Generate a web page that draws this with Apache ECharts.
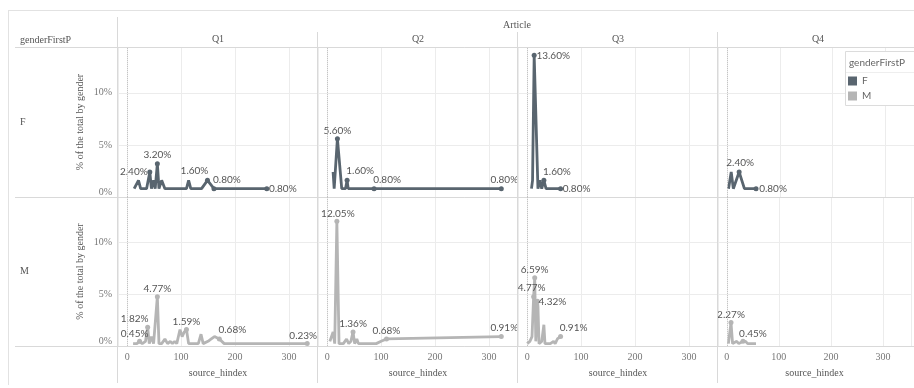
<!DOCTYPE html>
<html>
<head>
<meta charset="utf-8">
<script src="https://cdn.jsdelivr.net/npm/echarts@6/dist/echarts.min.js"></script>
<style>
html,body{margin:0;padding:0;background:#fff;}
#chart{width:914px;height:388px;}
</style>
</head>
<body>
<div id="chart"></div>
<script>
// ---------- data ----------
const columns = ['Q1', 'Q2', 'Q3', 'Q4'];
const genders = ['F', 'M'];
const yTicks = [0, 5, 10];
const xTicks = [0, 100, 200, 300];

// [source_hindex, % of the total by gender]
const q1F = [[13,0.8],[21,1.6],[25,0.8],[36,0.8],[42,2.4],[45,0.8],[49,1.6],[52,0.8],[56,3.2],[59,0.8],[64,1.6],[70,0.8],[110,0.8],[114,1.6],[118,0.8],[138,0.8],[149,1.6],[161,0.8],[259,0.8]];
const q2F = [[11,2.4],[13,0.8],[19,5.6],[27,0.8],[34,0.8],[37,1.6],[39,0.8],[87,0.8],[323,0.8]];
const q3F = [[8,0.8],[10,1.6],[13,13.6],[20,0.8],[24,1.6],[27,0.8],[31,1.6],[35,0.8],[62,0.8]];
const q4F = [[3,0.8],[8,2.4],[12,0.8],[23,2.4],[33,0.8],[55,0.8]];

const q1M = [[11,0.23],[18,0.23],[23,0.45],[28,0.23],[34,0.45],[38,1.82],[41,0.23],[45,0.91],[49,0.23],[56,4.77],[59,0.23],[64,0.23],[70,0.68],[75,0.23],[80,0.45],[84,0.23],[88,0.45],[92,0.23],[98,1.59],[102,0.91],[106,1.36],[110,1.59],[114,0.23],[132,0.23],[137,1.14],[141,0.23],[150,0.45],[156,0.68],[162,0.91],[171,0.68],[180,0.23],[334,0.23]];
const q2M = [[5,0.45],[11,1.36],[14,0.23],[18,12.05],[22,0.23],[30,0.23],[36,0.68],[40,0.23],[44,0.45],[48,1.36],[51,0.23],[55,0.68],[58,0.23],[91,0.23],[100,0.45],[110,0.68],[323,0.91]];
const q3M = [[0,0.23],[5,0.45],[9,0.91],[12,4.77],[14,6.59],[16,0.45],[19,4.32],[20,3.86],[22,0.23],[27,0.45],[31,2.05],[33,0.23],[43,0.23],[49,0.45],[52,0.23],[56,0.68],[62,0.91]];
const q4M = [[3,0.23],[8,2.27],[11,0.23],[19,0.45],[23,0.23],[31,0.45],[36,0.45],[40,0.23],[56,0.23]];

// x values of the labelled marks
const q1FLabeled = [42,56,149,161,259];
const q2FLabeled = [19,37,87,323];
const q3FLabeled = [13,31,62];
const q4FLabeled = [23,55];
const q1MLabeled = [23,38,56,110,171,334];
const q2MLabeled = [18,48,110,323];
const q3MLabeled = [12,14,19,62];
const q4MLabeled = [8,31];

// ---------- styling / layout (not data) ----------
const labelOffsets = {
  q1F: [[-16,0],[0,-9],[-13,-10],[13,-9],[16,0]],
  q2F: [[0,-8],[13,-10],[13,-9],[3,-9]],
  q3F: [[19,0],[13,-9],[16,0]],
  q4F: [[1,-9],[17,0]],
  q1M: [[-5,-8],[-13,-8],[0,-8],[0,-8],[13,-9],[-4,-8]],
  q2M: [[1,-8],[0,-8],[0,-8],[3,-9]],
  q3M: [[-2,-9],[0,-8],[15,0],[13,-9]],
  q4M: [[0,-8],[10,-8]]
};
const panels = {
  F: [[q1F,q1FLabeled,'q1F'],[q2F,q2FLabeled,'q2F'],[q3F,q3FLabeled,'q3F'],[q4F,q4FLabeled,'q4F']],
  M: [[q1M,q1MLabeled,'q1M'],[q2M,q2MLabeled,'q2M'],[q3M,q3MLabeled,'q3M'],[q4M,q4MLabeled,'q4M']]
};
const colors = { F: '#59656f', M: '#b5b5b5' };
const SERIF = '"Liberation Serif", "DejaVu Serif", serif';
const SANS = 'Lato, "Open Sans", sans-serif';
const gridLeft = [118, 318, 518, 718];
const rowTop = [47, 197];
const rowH = [150, 149];

const grids = [], xAxes = [], yAxes = [], series = [];
genders.forEach((g, r) => {
  columns.forEach((c, ci) => {
    const idx = grids.length;
    grids.push({ left: gridLeft[ci], top: rowTop[r], width: 200, height: rowH[r], containLabel: false });
    xAxes.push({
      type: 'value', gridIndex: idx, min: -17, max: 354,
      axisLine: { show: false }, axisTick: { show: false },
      axisLabel: {
        show: r === 1, margin: 6, color: '#777', fontFamily: SERIF, fontSize: 10,
        formatter: v => (xTicks.indexOf(v) >= 0 ? String(v) : '')
      },
      splitLine: { show: true, lineStyle: { color: '#ececec', width: 1 } },
      name: r === 1 ? 'source_hindex' : '', nameLocation: 'middle', nameGap: 22,
      nameTextStyle: { color: '#555', fontFamily: SERIF, fontSize: 10 }
    });
    yAxes.push({
      type: 'value', gridIndex: idx, min: 0, max: 14.4, interval: 5,
      axisLine: { show: false }, axisTick: { show: false },
      axisLabel: {
        show: ci === 0, margin: 6, color: '#777', fontFamily: SERIF, fontSize: 10,
        formatter: v => (v === 0 ? '0%\n' : (yTicks.indexOf(v) >= 0 ? v + '%' : ''))
      },
      splitLine: { show: true, lineStyle: { color: '#ececec', width: 1 } },
      name: ci === 0 ? '% of the total by gender' : '', nameLocation: 'middle', nameGap: 33,
      nameTextStyle: { color: '#555', fontFamily: SERIF, fontSize: 10 }
    });
    const [pts, labeled, key] = panels[g][ci];
    const offs = labelOffsets[key];
    const data = pts.map(p => {
      const i = labeled.indexOf(p[0]);
      if (i < 0) return { value: p };
      return {
        value: p, symbol: 'circle', symbolSize: 5,
        label: {
          show: true, position: 'inside', offset: offs[i],
          formatter: p[1].toFixed(2) + '%',
          color: '#555', fontFamily: SANS, fontSize: 10
        }
      };
    });
    series.push({
      type: 'line', name: g, xAxisIndex: idx, yAxisIndex: idx,
      data: data, symbol: 'none', showSymbol: true, silent: true,
      lineStyle: { color: colors[g], width: 2.8 },
      itemStyle: { color: colors[g] },
      label: { show: false },
      markLine: {
        silent: true, symbol: ['none', 'none'], label: { show: false },
        lineStyle: { type: 'dotted', color: '#c4c4c4', width: 1 },
        data: [{ xAxis: 0 }]
      },
      z: 3
    });
  });
});

function line(x1, y1, x2, y2, color) {
  return { type: 'line', silent: true, z: 5,
    shape: { x1, y1, x2, y2 }, style: { stroke: color || '#d9d9d9', lineWidth: 1 } };
}
function text(t, x, y, opts) {
  return { type: 'text', silent: true, z: 6, x: x, y: y,
    style: Object.assign({ text: t, fill: '#555', font: '10px ' + SERIF,
      align: 'center', verticalAlign: 'middle', textAlign: 'center', textVerticalAlign: 'middle' }, opts || {}) };
}

const graphic = [
  line(8, 10.5, 914, 10.5, '#e2e2e2'),
  line(8.5, 10, 8.5, 385, '#e2e2e2'),
  line(15, 47.5, 914, 47.5),
  line(15, 197.5, 914, 197.5),
  line(15, 346.5, 914, 346.5),
  line(117.5, 17, 117.5, 383),
  line(317.5, 32, 317.5, 383),
  line(517.5, 32, 517.5, 383),
  line(717.5, 32, 717.5, 383),
  text('Article', 517, 25),
  text('genderFirstP', 20, 40, { align: 'left', textAlign: 'left' }),
  text('F', 20, 122, { align: 'left', textAlign: 'left' }),
  text('M', 20, 271, { align: 'left', textAlign: 'left' })
];
columns.forEach((c, ci) => graphic.push(text(c, gridLeft[ci] + 100, 39)));
// legend box
graphic.push({ type: 'rect', silent: true, z: 20, shape: { x: 845.5, y: 51.5, width: 80, height: 54 },
  style: { fill: '#fff', stroke: '#dcdcdc', lineWidth: 1 } });
graphic.push({ type: 'line', silent: true, z: 21, shape: { x1: 846, y1: 72.5, x2: 914, y2: 72.5 },
  style: { stroke: '#eeeeee', lineWidth: 1 } });
graphic.push({ type: 'text', silent: true, z: 21, x: 849, y: 63,
  style: { text: 'genderFirstP', fill: '#666', font: '10px ' + SANS,
    align: 'left', verticalAlign: 'middle', textAlign: 'left', textVerticalAlign: 'middle' } });

const chart = echarts.init(document.getElementById('chart'), null, { renderer: 'canvas' });
chart.setOption({
  animation: false,
  backgroundColor: '#fff',
  grid: grids, xAxis: xAxes, yAxis: yAxes, series: series,
  legend: {
    data: [{ name: 'F', icon: 'rect' }, { name: 'M', icon: 'rect' }],
    orient: 'vertical', left: 848, top: 76, padding: 0,
    itemWidth: 9, itemHeight: 9, itemGap: 5, z: 30, selectedMode: false,
    textStyle: { color: '#666', fontFamily: SANS, fontSize: 10 },
    itemStyle: { borderWidth: 0 }
  },
  graphic: graphic
});
</script>
</body>
</html>
